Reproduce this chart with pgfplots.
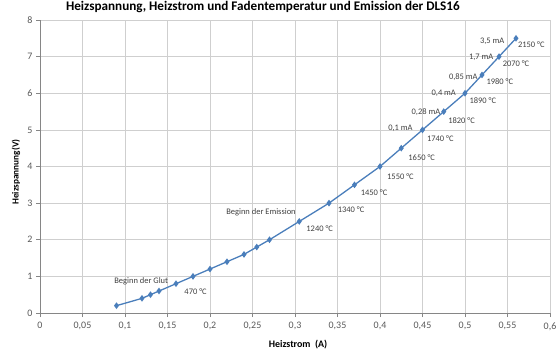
\documentclass[border=0pt]{standalone}
\usepackage{fontspec}
\setmainfont{Carlito}
\usepackage{pgfplots}
\pgfplotsset{compat=1.18}
\definecolor{lineblue}{HTML}{4A7EBB}
\definecolor{gridgray}{HTML}{CFCFCF}
\definecolor{axisgray}{HTML}{868686}
\definecolor{textgray}{HTML}{595959}
\definecolor{anngray}{HTML}{404040}
\begin{document}
\begin{tikzpicture}
\path[use as bounding box] (-40bp,-48bp) rectangle (520bp,313bp);
\begin{axis}[
  at={(0,0)}, anchor=south west,
  scale only axis, width=510bp, height=293bp,
  xmin=0, xmax=0.6, ymin=0, ymax=8,
  xtick={0,0.05,0.1,0.15,0.2,0.25,0.3,0.35,0.4,0.45,0.5,0.55,0.6},
  ytick={0,1,2,3,4,5,6,7,8},
  grid=major, major grid style={gridgray, line width=0.6pt},
  axis x line*=bottom, axis y line*=left,
  axis line style={axisgray, line width=0.6pt},
  tick style={axisgray, line width=0.6pt}, tick align=outside, major tick length=4bp,
  ticklabel style={font=\fontsize{10}{12}\selectfont, text=textgray},
  xticklabel style={yshift=-2bp},
  /pgf/number format/assume math mode=true,
  xticklabel style={/pgf/number format/.cd, use comma, fixed, precision=2},
  xlabel={Heizstrom\ \ (A)},
  ylabel={Heizspannung(V)},
  xlabel style={font=\bfseries\fontsize{10}{12}\selectfont, text=black, at={(axis description cs:0.506,-0.109)}, anchor=center},
  ylabel style={font=\bfseries\fontsize{9.3}{11}\selectfont, text=black, at={(axis description cs:-0.047,0.481)}, anchor=center},
  title={Heizspannung, Heizstrom und Fadentemperatur und Emission der DLS16},
  title style={font=\bfseries\fontsize{13.2}{16}\selectfont, text=black, at={(axis description cs:0.437,1.024)}, anchor=center},
  clip=false,
]
\addplot[lineblue, line width=1.3pt, mark=diamond*, mark size=2.3bp, mark options={fill=lineblue, solid}] table {
x y
0.09 0.2
0.12 0.4
0.13 0.5
0.14 0.6
0.16 0.8
0.18 1.0
0.20 1.2
0.22 1.4
0.24 1.6
0.255 1.8
0.27 2.0
0.305 2.5
0.34 3.0
0.37 3.5
0.40 4.0
0.425 4.5
0.45 5.0
0.475 5.5
0.50 6.0
0.52 6.5
0.54 7.0
0.56 7.5
};
\begin{scope}[every node/.style={font=\fontsize{8.5}{10}\selectfont, text=anngray, inner sep=0pt}]
\node at (axis cs:0.119,0.87) {Beginn der Glut};
\node at (axis cs:0.183,0.57) {470 °C};
\node at (axis cs:0.260,2.75) {Beginn der Emission};
\node at (axis cs:0.329,2.29) {1240 °C};
\node at (axis cs:0.366,2.81) {1340 °C};
\node at (axis cs:0.393,3.28) {1450 °C};
\node at (axis cs:0.424,3.72) {1550 °C};
\node at (axis cs:0.449,4.23) {1650 °C};
\node at (axis cs:0.471,4.75) {1740 °C};
\node at (axis cs:0.496,5.25) {1820 °C};
\node at (axis cs:0.521,5.79) {1890 °C};
\node at (axis cs:0.541,6.31) {1980 °C};
\node at (axis cs:0.560,6.80) {2070 °C};
\node at (axis cs:0.578,7.32) {2150 °C};
\node at (axis cs:0.532,7.43) {3,5 mA};
\node at (axis cs:0.519,6.99) {1,7 mA};
\node at (axis cs:0.498,6.45) {0,85 mA};
\node at (axis cs:0.475,6.01) {0,4 mA};
\node at (axis cs:0.454,5.49) {0,28 mA};
\node at (axis cs:0.424,5.03) {0,1 mA};
\end{scope}
\end{axis}
\end{tikzpicture}
\end{document}
